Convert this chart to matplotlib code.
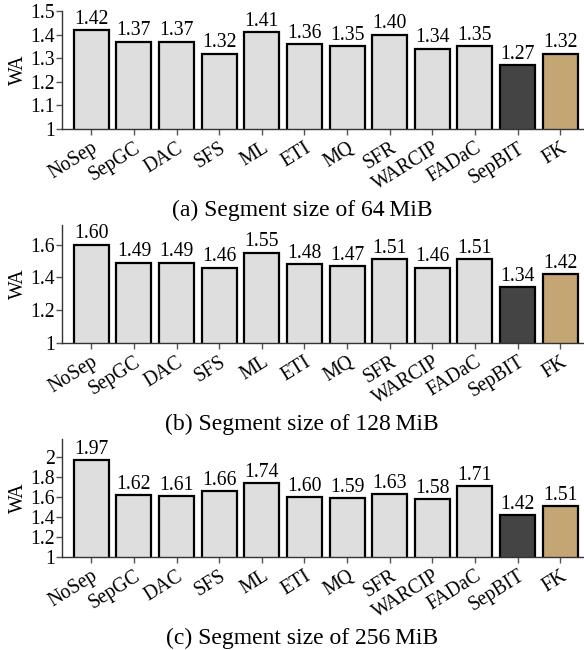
import matplotlib
matplotlib.use('Agg')
import matplotlib.pyplot as plt
from matplotlib.ticker import FormatStrFormatter

plt.rcParams['font.family'] = ['Liberation Serif', 'DejaVu Serif']
plt.rcParams['font.size'] = 14.2

schemes = ['NoSep', 'SepGC', 'DAC', 'SFS', 'ML', 'ETI', 'MQ', 'SFR',
           'WARCIP', 'FADaC', 'SepBIT', 'FK']
wa_64 = [1.42, 1.37, 1.37, 1.32, 1.41, 1.36, 1.35, 1.40, 1.34, 1.35, 1.27, 1.32]
wa_128 = [1.60, 1.49, 1.49, 1.46, 1.55, 1.48, 1.47, 1.51, 1.46, 1.51, 1.34, 1.42]
wa_256 = [1.97, 1.62, 1.61, 1.66, 1.74, 1.60, 1.59, 1.63, 1.58, 1.71, 1.42, 1.51]
captions = ['(a) Segment size of 64\u2009MiB',
            '(b) Segment size of 128\u2009MiB',
            '(c) Segment size of 256\u2009MiB']
ylims = [(1, 1.5), (1, 1.72), (1, 2.18)]
yticks = [[1, 1.1, 1.2, 1.3, 1.4, 1.5],
          [1, 1.2, 1.4, 1.6],
          [1, 1.2, 1.4, 1.6, 1.8, 2]]

colors = ['#dedede'] * 10 + ['#444444', '#c4a574']

fig = plt.figure(figsize=(5.84, 6.5), dpi=100)
bottoms = [0.8015, 0.4723, 0.1431]
height = 0.1815

for i, (vals, cap) in enumerate(zip([wa_64, wa_128, wa_256], captions)):
    ax = fig.add_axes([0.106, bottoms[i], 0.894, height])
    x = range(len(schemes))
    bars = ax.bar(x, vals, width=0.82, color=colors, edgecolor='black',
                  linewidth=1.6, bottom=0)
    ax.bar_label(bars, labels=[f'{v:.2f}' for v in vals], padding=1)
    ax.set_ylim(*ylims[i])
    ax.set_xlim(-0.69, 11.56)
    ax.set_yticks(yticks[i])
    ax.yaxis.set_major_formatter(FormatStrFormatter('%g'))
    ax.set_xticks(list(x))
    ax.set_xticklabels(schemes, rotation=32, ha='right', rotation_mode='anchor')
    ax.set_ylabel('WA', labelpad=2)
    for s in ['top', 'right']:
        ax.spines[s].set_visible(False)
    for s in ['left', 'bottom']:
        ax.spines[s].set_color('#333333')
        ax.spines[s].set_linewidth(1.0)
    ax.tick_params(axis='both', direction='out', length=4, width=1.0,
                   color='#555555', pad=1)
    ax.tick_params(axis='x', pad=3)
    fig.text(302 / 584, 1 - (210 + 214 * i) / 650, cap, ha='center', va='center',
             fontsize=17)

fig.savefig('out.png', dpi=100)
